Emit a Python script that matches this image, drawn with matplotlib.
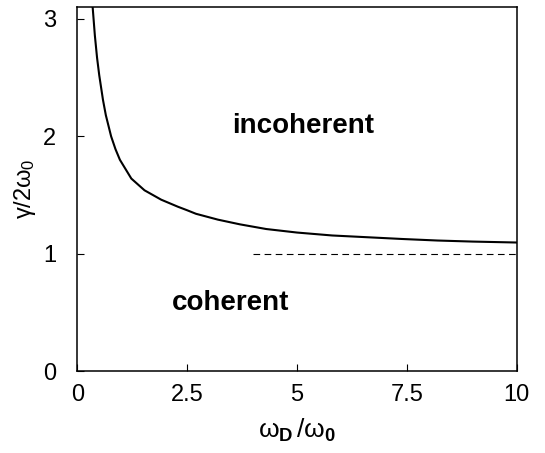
import matplotlib
matplotlib.use("Agg")
import matplotlib.pyplot as plt

# boundary curve
omega_d = [0.35, 0.40, 0.45, 0.50, 0.585, 0.65, 0.77, 0.87, 0.97, 1.1, 1.23,
           1.38, 1.53, 1.72, 1.91, 2.1, 2.29, 2.5, 2.7, 3.2, 3.7, 4.3, 5.0,
           5.8, 6.6, 7.4, 8.2, 9.0, 10.0]
gamma = [3.10, 2.86, 2.67, 2.52, 2.31, 2.18, 2.00, 1.89, 1.80, 1.72, 1.64,
         1.59, 1.54, 1.50, 1.46, 1.43, 1.40, 1.37, 1.34, 1.29, 1.25, 1.21, 1.18,
         1.155, 1.14, 1.125, 1.112, 1.103, 1.095]
asym_x = [4.0, 10.0]
asym_y = [1.0, 1.0]
xticks = [0, 2.5, 5, 7.5, 10]
xticklabels = ["0", "2.5", "5", "7.5", "10"]
yticks = [0, 1, 2, 3]

plt.rcParams['font.family'] = ['Liberation Sans', 'DejaVu Sans']
plt.rcParams['mathtext.fontset'] = 'custom'
plt.rcParams['mathtext.rm'] = 'Liberation Sans'
plt.rcParams['mathtext.it'] = 'Liberation Sans'
plt.rcParams['mathtext.bf'] = 'Liberation Sans:bold'

fig = plt.figure(figsize=(5.45, 4.53), dpi=100)
ax = fig.add_axes([0.1418, 0.181, 0.8062, 0.803])

ax.plot(omega_d, gamma, color='black', lw=1.5)
ax.plot(asym_x, asym_y, color='black', lw=0.8, dashes=[6, 4])

ax.text(5.14, 2.03, "incoherent", fontsize=20, fontweight='bold', ha='center', va='baseline')
ax.text(3.48, 0.52, "coherent", fontsize=20, fontweight='bold', ha='center', va='baseline')

ax.set_xlim(0, 10)
ax.set_ylim(0, 3.1)
ax.set_xticks(xticks)
ax.set_xticklabels(xticklabels)
ax.set_yticks(yticks)
ax.tick_params(direction='in', length=5, labelsize=17, top=False, right=False)
ax.tick_params(axis='x', pad=9)
ax.tick_params(axis='y', pad=15)
for s in ax.spines.values():
    s.set_linewidth(1.1)

ax.set_xlabel(r'$\omega_{\mathbf{D}}\,/\omega_{\mathbf{0}}$', fontsize=19, labelpad=8)
ax.set_ylabel(r'$\gamma/2\omega_0$', fontsize=17, labelpad=4)

fig.savefig("out.png", dpi=100)
